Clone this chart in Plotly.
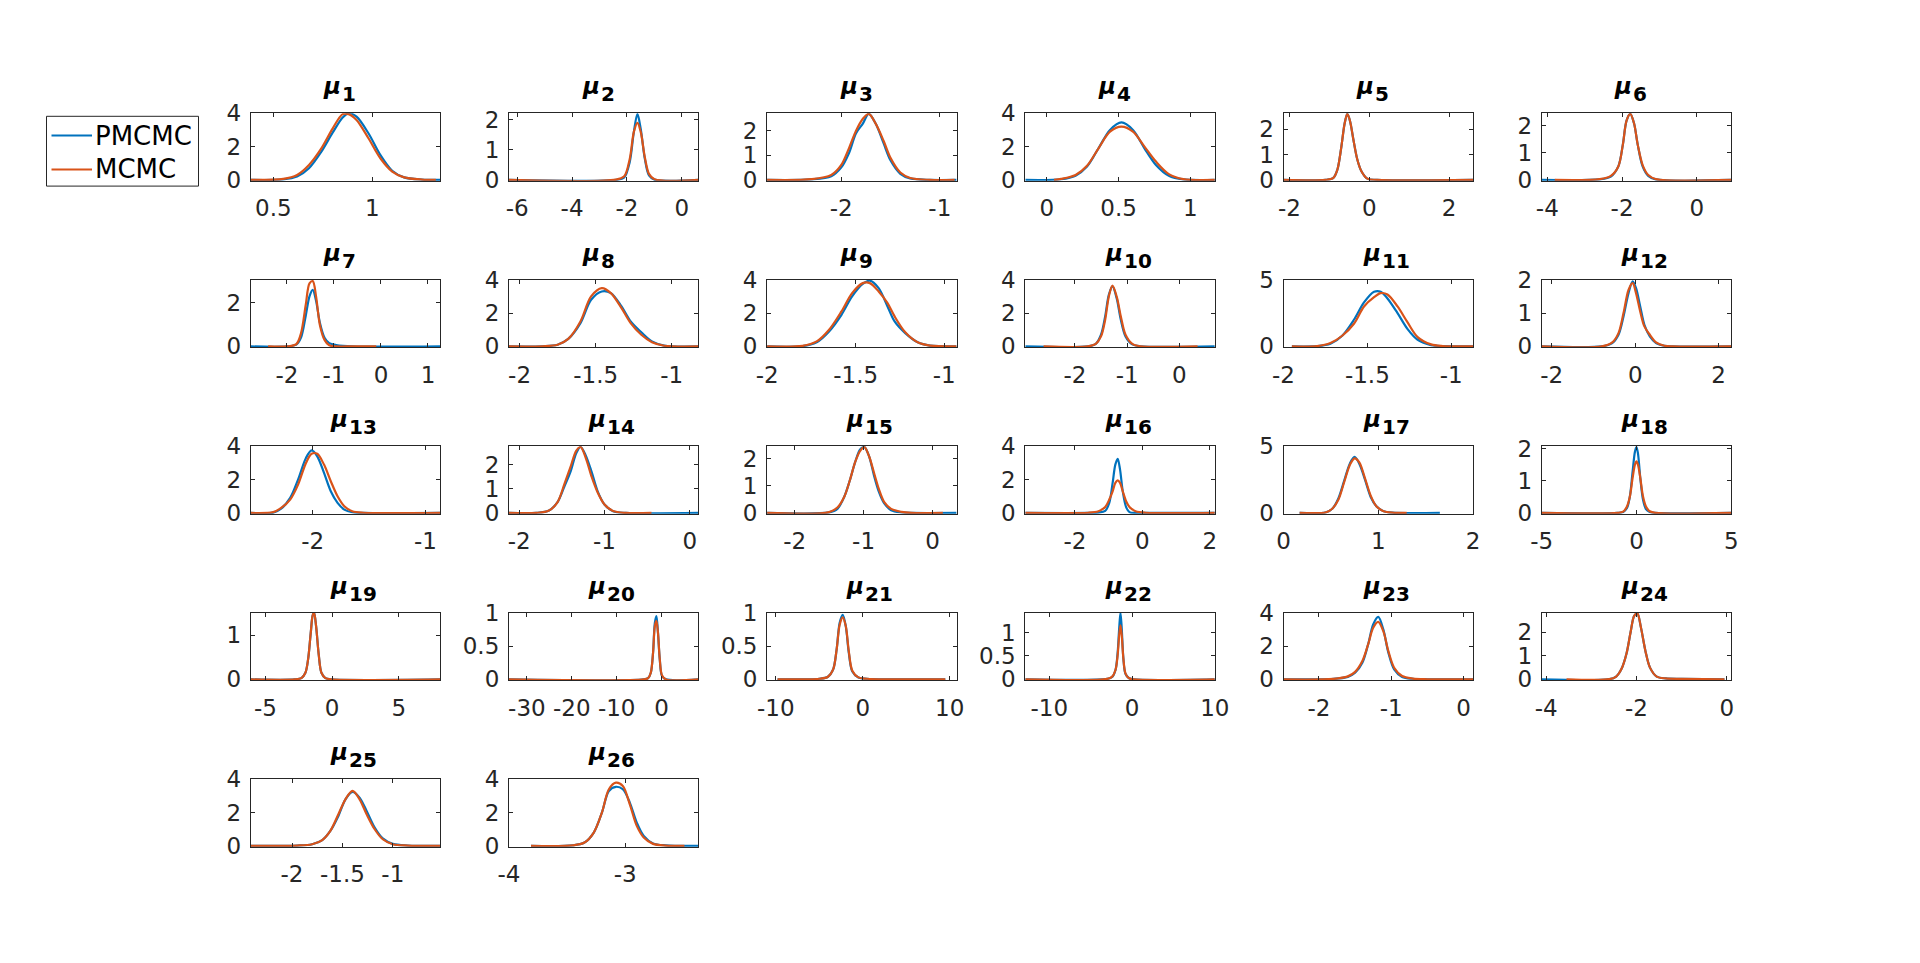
import plotly.graph_objects as go

# ---------------- data ----------------
param_index = list(range(1, 27))
series_names = ["PMCMC", "MCMC"]

x_limits = [
    [0.386, 1.342], [-6.3, 0.6], [-2.75, -0.83], [-0.15, 1.17], [-2.15, 2.6], [-4.15, 0.92],
    [-2.77, 1.26], [-2.07, -0.825], [-2.0, -0.93], [-2.95, 0.68], [-2.0, -0.87], [-2.24, 2.3],
    [-2.55, -0.87], [-2.12, 0.1], [-2.4, 0.35], [-3.47, 2.15], [0.0, 2.0], [-5.0, 5.0],
    [-6.1, 8.1], [-34.0, 8.2], [-11.0, 10.8], [-12.9, 10.0], [-2.49, 0.13], [-4.1, 0.1],
    [-2.41, -0.53], [-4.0, -2.37],
]
y_max = [4, 2.22, 2.72, 4, 2.62, 2.47,
         3.06, 4, 4, 4, 5, 2.0,
         4, 2.78, 2.47, 4, 5, 2.07,
         1.5, 1.0, 1.0, 1.42, 4, 2.83,
         4, 4]
x_tick_vals = [
    [0.5, 1], [-6, -4, -2, 0], [-2, -1], [0, 0.5, 1], [-2, 0, 2], [-4, -2, 0],
    [-2, -1, 0, 1], [-2, -1.5, -1], [-2, -1.5, -1], [-2, -1, 0], [-2, -1.5, -1], [-2, 0, 2],
    [-2, -1], [-2, -1, 0], [-2, -1, 0], [-2, 0, 2], [0, 1, 2], [-5, 0, 5],
    [-5, 0, 5], [-30, -20, -10, 0], [-10, 0, 10], [-10, 0, 10], [-2, -1, 0], [-4, -2, 0],
    [-2, -1.5, -1], [-4, -3],
]
y_tick_vals = [
    [0, 2, 4], [0, 1, 2], [0, 1, 2], [0, 2, 4], [0, 1, 2], [0, 1, 2],
    [0, 2], [0, 2, 4], [0, 2, 4], [0, 2, 4], [0, 5], [0, 1, 2],
    [0, 2, 4], [0, 1, 2], [0, 1, 2], [0, 2, 4], [0, 5], [0, 1, 2],
    [0, 1], [0, 0.5, 1], [0, 0.5, 1], [0, 0.5, 1], [0, 2, 4], [0, 1, 2],
    [0, 2, 4], [0, 2, 4],
]

# density evaluation points (shared by both series of a panel)
grid_x = [
    [0.55, 0.62, 0.68, 0.74, 0.80, 0.85, 0.88, 0.92, 0.98, 1.04, 1.10, 1.16, 1.25],
    [-2.4, -2.1, -1.9, -1.75, -1.62, -1.5, -1.35, -1.2, -1.0],
    [-2.3, -2.1, -2.0, -1.92, -1.85, -1.78, -1.72, -1.65, -1.57, -1.5, -1.4, -1.3, -1.1],
    [0.1, 0.2, 0.28, 0.36, 0.44, 0.52, 0.6, 0.68, 0.76, 0.85, 0.95],
    [-1.1, -0.9, -0.8, -0.7, -0.62, -0.55, -0.48, -0.4, -0.3, -0.2, -0.05, 0.2],
    [-2.6, -2.3, -2.1, -1.98, -1.88, -1.78, -1.68, -1.58, -1.45, -1.3, -1.1],
    [-2.0, -1.8, -1.7, -1.6, -1.52, -1.45, -1.38, -1.3, -1.2, -1.1, -0.95, -0.6],
    [-1.85, -1.75, -1.68, -1.6, -1.53, -1.46, -1.4, -1.33, -1.27, -1.2, -1.13, -1.05],
    [-1.8, -1.72, -1.65, -1.58, -1.52, -1.46, -1.42, -1.37, -1.32, -1.28, -1.22, -1.15, -1.08],
    [-1.75, -1.6, -1.5, -1.42, -1.35, -1.28, -1.2, -1.12, -1.03, -0.9, -0.75],
    [-1.8, -1.72, -1.65, -1.58, -1.52, -1.46, -1.42, -1.38, -1.32, -1.26, -1.2, -1.12, -1.05],
    [-0.8, -0.55, -0.4, -0.28, -0.16, -0.06, 0.02, 0.12, 0.22, 0.35, 0.5, 0.7, 0.9],
    [-2.35, -2.28, -2.2, -2.13, -2.06, -2.01, -1.96, -1.9, -1.84, -1.78, -1.72, -1.65, -1.55],
    [-1.8, -1.65, -1.55, -1.47, -1.4, -1.33, -1.28, -1.22, -1.15, -1.08, -1.0, -0.9, -0.75],
    [-1.5, -1.38, -1.28, -1.2, -1.12, -1.05, -0.99, -0.92, -0.85, -0.78, -0.7, -0.6, -0.45, -0.3],
    [-1.6, -1.3, -1.1, -0.98, -0.88, -0.8, -0.73, -0.66, -0.58, -0.48, -0.38, -0.2, 0.1],
    [0.45, 0.52, 0.58, 0.64, 0.7, 0.75, 0.8, 0.86, 0.92, 0.98, 1.05, 1.15],
    [-1.0, -0.7, -0.5, -0.35, -0.2, -0.08, 0.0, 0.08, 0.2, 0.35, 0.5, 0.7, 1.0],
    [-2.8, -2.3, -2.0, -1.8, -1.6, -1.45, -1.35, -1.2, -1.0, -0.8, -0.5, 0.0],
    [-4.0, -3.0, -2.4, -1.9, -1.5, -1.15, -0.8, -0.4, 0.1, 1.0],
    [-5.0, -4.0, -3.4, -3.0, -2.65, -2.3, -1.95, -1.6, -1.2, -0.5, 0.5],
    [-3.0, -2.4, -2.0, -1.75, -1.55, -1.4, -1.25, -1.05, -0.8, -0.4, 0.2],
    [-1.8, -1.6, -1.5, -1.4, -1.32, -1.25, -1.18, -1.11, -1.04, -0.96, -0.85, -0.7, -0.5],
    [-2.6, -2.45, -2.33, -2.22, -2.13, -2.05, -1.98, -1.9, -1.8, -1.7, -1.55, -1.35, -1.0],
    [-1.95, -1.8, -1.7, -1.62, -1.54, -1.47, -1.4, -1.33, -1.26, -1.18, -1.1, -1.0, -0.85],
    [-3.45, -3.35, -3.27, -3.2, -3.14, -3.08, -3.02, -2.96, -2.9, -2.84, -2.76, -2.65],
]

pmcmc_density = [
    [0.03, 0.2, 0.7, 1.65, 2.85, 3.75, 4.0, 3.8, 2.8, 1.5, 0.55, 0.15, 0.02],
    [0.0, 0.08, 0.6, 1.6, 2.2, 1.7, 0.7, 0.15, 0.01],
    [0.02, 0.15, 0.5, 1.1, 1.9, 2.3, 2.7, 2.3, 1.5, 0.8, 0.25, 0.06, 0.0],
    [0.04, 0.25, 0.8, 1.9, 3.0, 3.45, 3.0, 1.9, 0.9, 0.25, 0.03],
    [0.0, 0.08, 0.4, 1.3, 2.2, 2.6, 2.3, 1.6, 0.8, 0.35, 0.05, 0.0],
    [0.02, 0.12, 0.5, 1.3, 2.2, 2.45, 2.1, 1.3, 0.5, 0.15, 0.02],
    [0.0, 0.08, 0.4, 1.4, 2.3, 2.6, 2.1, 1.1, 0.4, 0.15, 0.06, 0.0],
    [0.01, 0.1, 0.45, 1.4, 2.8, 3.3, 3.2, 2.4, 1.5, 0.85, 0.3, 0.05],
    [0.02, 0.25, 0.9, 1.9, 3.0, 3.75, 3.95, 3.5, 2.4, 1.5, 0.8, 0.25, 0.05],
    [0.0, 0.15, 0.7, 1.8, 3.1, 3.6, 2.9, 1.6, 0.6, 0.12, 0.01],
    [0.02, 0.2, 0.8, 2.0, 3.3, 4.1, 4.1, 3.6, 2.5, 1.3, 0.5, 0.1, 0.02],
    [0.0, 0.1, 0.35, 0.9, 1.6, 1.95, 1.75, 1.2, 0.65, 0.3, 0.1, 0.02, 0.0],
    [0.02, 0.25, 0.9, 2.0, 3.3, 3.75, 3.4, 2.4, 1.3, 0.6, 0.2, 0.04, 0.0],
    [0.0, 0.1, 0.45, 1.1, 1.7, 2.5, 2.75, 2.4, 1.7, 0.9, 0.35, 0.07, 0.0],
    [0.02, 0.15, 0.6, 1.2, 1.9, 2.35, 2.45, 2.1, 1.4, 0.8, 0.35, 0.1, 0.02, 0.0],
    [0.0, 0.02, 0.12, 0.6, 1.8, 2.9, 3.25, 2.6, 1.3, 0.35, 0.05, 0.0, 0.0],
    [0.05, 0.35, 1.1, 2.4, 3.7, 4.2, 3.7, 2.5, 1.2, 0.5, 0.15, 0.02],
    [0.0, 0.03, 0.15, 0.5, 1.3, 1.9, 2.05, 1.85, 1.1, 0.4, 0.12, 0.03, 0.0],
    [0.0, 0.03, 0.15, 0.45, 1.05, 1.45, 1.5, 1.2, 0.55, 0.15, 0.03, 0.0],
    [0.0, 0.02, 0.1, 0.4, 0.85, 0.95, 0.7, 0.3, 0.05, 0.0],
    [0.01, 0.04, 0.15, 0.45, 0.85, 0.97, 0.8, 0.4, 0.12, 0.03, 0.01],
    [0.01, 0.05, 0.2, 0.55, 1.1, 1.42, 1.1, 0.45, 0.12, 0.03, 0.0],
    [0.03, 0.15, 0.4, 1.0, 2.1, 3.3, 3.75, 3.0, 1.6, 0.6, 0.15, 0.04, 0.01],
    [0.01, 0.12, 0.45, 1.1, 2.0, 2.7, 2.8, 2.2, 1.2, 0.5, 0.12, 0.04, 0.02],
    [0.02, 0.1, 0.35, 0.9, 1.8, 2.8, 3.25, 2.9, 2.1, 1.1, 0.45, 0.12, 0.02],
    [0.03, 0.2, 0.8, 2.0, 3.3, 3.55, 3.4, 2.6, 1.4, 0.6, 0.15, 0.03],
]

mcmc_density = [
    [0.06, 0.3, 0.9, 1.85, 3.1, 3.95, 3.95, 3.6, 2.5, 1.3, 0.5, 0.15, 0.02],
    [0.01, 0.12, 0.7, 1.6, 1.9, 1.6, 0.75, 0.2, 0.02],
    [0.03, 0.2, 0.6, 1.3, 2.0, 2.5, 2.7, 2.3, 1.6, 0.9, 0.3, 0.08, 0.0],
    [0.06, 0.3, 0.85, 1.9, 2.9, 3.2, 2.9, 2.0, 1.1, 0.35, 0.05],
    [0.0, 0.08, 0.4, 1.3, 2.2, 2.6, 2.3, 1.6, 0.8, 0.35, 0.05, 0.0],
    [0.03, 0.15, 0.5, 1.3, 2.2, 2.45, 2.1, 1.3, 0.55, 0.18, 0.03],
    [0.0, 0.1, 0.6, 1.9, 2.9, 3.0, 2.3, 1.0, 0.3, 0.05, 0.0, 0.0],
    [0.01, 0.1, 0.45, 1.5, 3.0, 3.5, 3.2, 2.3, 1.4, 0.7, 0.25, 0.04],
    [0.03, 0.3, 1.0, 2.1, 3.2, 3.8, 3.8, 3.3, 2.6, 1.8, 0.85, 0.25, 0.05],
    [0.0, 0.15, 0.6, 1.6, 3.0, 3.65, 3.0, 1.8, 0.7, 0.15, 0.01],
    [0.02, 0.25, 0.8, 1.7, 3.0, 3.7, 4.0, 3.9, 3.0, 1.8, 0.7, 0.15, 0.03],
    [0.0, 0.12, 0.4, 1.0, 1.7, 1.9, 1.6, 1.05, 0.6, 0.35, 0.12, 0.02, 0.0],
    [0.05, 0.3, 0.8, 1.7, 3.0, 3.55, 3.55, 2.9, 1.9, 1.0, 0.4, 0.1, 0.01],
    [0.0, 0.1, 0.45, 1.2, 1.9, 2.6, 2.75, 2.3, 1.5, 0.85, 0.35, 0.08, 0.0],
    [0.03, 0.2, 0.6, 1.2, 1.9, 2.3, 2.45, 2.1, 1.5, 0.9, 0.4, 0.15, 0.04, 0.0],
    [0.01, 0.1, 0.35, 0.8, 1.3, 1.8, 1.95, 1.8, 1.3, 0.7, 0.35, 0.1, 0.01],
    [0.05, 0.35, 1.0, 2.3, 3.6, 4.1, 3.8, 2.6, 1.3, 0.5, 0.15, 0.02],
    [0.0, 0.04, 0.2, 0.5, 1.1, 1.5, 1.6, 1.5, 1.1, 0.5, 0.2, 0.05, 0.0],
    [0.0, 0.03, 0.15, 0.45, 1.05, 1.45, 1.5, 1.2, 0.55, 0.15, 0.03, 0.0],
    [0.0, 0.02, 0.1, 0.4, 0.8, 0.88, 0.7, 0.3, 0.06, 0.0],
    [0.01, 0.04, 0.15, 0.45, 0.82, 0.93, 0.8, 0.42, 0.13, 0.03, 0.01],
    [0.01, 0.06, 0.2, 0.5, 0.95, 1.15, 0.95, 0.45, 0.13, 0.03, 0.0],
    [0.03, 0.18, 0.45, 1.1, 2.1, 3.1, 3.45, 2.9, 1.7, 0.7, 0.2, 0.05, 0.01],
    [0.01, 0.12, 0.45, 1.1, 2.0, 2.7, 2.8, 2.2, 1.2, 0.5, 0.12, 0.04, 0.02],
    [0.02, 0.1, 0.35, 0.9, 1.9, 2.8, 3.3, 2.8, 1.9, 1.0, 0.4, 0.1, 0.02],
    [0.03, 0.2, 0.8, 2.0, 3.4, 3.8, 3.6, 2.5, 1.2, 0.5, 0.12, 0.02],
]

# outermost evaluation points of each kernel density (density ~0 there)
pmcmc_support = [
    [0.386, 1.342], [-6.3, 0.6], [-2.75, -0.83], [-0.15, 1.17], [-2.15, 2.6], [-4.15, 0.92],
    [-2.77, 1.26], [-2.07, -0.825], [-2.0, -0.93], [-2.95, 0.68], [-1.95, -0.87], [-2.24, 2.3],
    [-2.55, -0.87], [-2.12, 0.1], [-2.4, 0.35], [-3.47, 2.15], [0.17, 1.65], [-5.0, 5.0],
    [-6.1, 8.1], [-34.0, 8.2], [-9.8, 9.5], [-12.9, 10.0], [-2.49, 0.13], [-4.1, -0.05],
    [-2.41, -0.53], [-3.81, -2.37],
]
mcmc_support = [
    [0.386, 1.32], [-6.3, 0.6], [-2.75, -0.85], [0.05, 1.17], [-2.15, 2.6], [-3.8, 0.92],
    [-2.4, -0.1], [-2.07, -0.825], [-2.0, -0.93], [-2.6, 0.35], [-1.95, -0.87], [-2.24, 2.3],
    [-2.55, -0.87], [-2.12, -0.45], [-2.4, 0.15], [-3.47, 2.15], [0.17, 1.3], [-5.0, 5.0],
    [-6.1, 8.1], [-34.0, 8.2], [-9.8, 9.5], [-12.9, 10.0], [-2.49, 0.13], [-3.55, -0.05],
    [-2.41, -0.53], [-3.81, -2.49],
]

# ---------------- styling / layout ----------------
W, H = 1920, 963
BLUE = "#0072BD"
ORANGE = "#D95319"
AX = "#262626"
FONT = "DejaVu Sans, Liberation Sans, Arial, sans-serif"

n_cols = 6
box_left0, box_dx, box_w = 250.7, 258.2, 189.5
box_top0, box_dy, box_h = 113.3, 166.5, 67.4


def fmt(v):
    return "%g" % v


fig = go.Figure()
annotations = []
shapes = []

for k, idx in enumerate(param_index):
    r, c = divmod(k, n_cols)
    left = box_left0 + c * box_dx
    top = box_top0 + r * box_dy
    xd = [left / W, (left + box_w) / W]
    yd = [1 - (top + box_h) / H, 1 - top / H]
    sfx = "" if k == 0 else str(k + 1)
    xa, ya = "x" + sfx, "y" + sfx

    for name, dens, sup, col in [
        (series_names[0], pmcmc_density[k], pmcmc_support[k], BLUE),
        (series_names[1], mcmc_density[k], mcmc_support[k], ORANGE),
    ]:
        xs = [sup[0]] + grid_x[k] + [sup[1]]
        ys = [0.0] + dens + [0.0]
        fig.add_trace(go.Scatter(
            x=xs, y=ys, mode="lines", name=name, showlegend=False,
            line=dict(color=col, width=2.2, shape="spline", smoothing=0.9),
            xaxis=xa, yaxis=ya, hoverinfo="x+y+name",
        ))

    ymx = y_max[k]
    common = dict(showline=True, linecolor=AX, linewidth=1, mirror="allticks",
                  ticks="inside", ticklen=4, tickwidth=1, tickcolor=AX,
                  showgrid=False, zeroline=False, automargin=False,
                  tickfont=dict(family=FONT, size=23, color=AX))
    fig.layout["xaxis" + sfx] = dict(
        domain=xd, anchor=ya, range=x_limits[k], tickmode="array",
        tickvals=x_tick_vals[k], ticktext=[fmt(v) for v in x_tick_vals[k]],
        ticklabelstandoff=7, **common)
    fig.layout["yaxis" + sfx] = dict(
        domain=yd, anchor=xa, range=[-0.012 * ymx, ymx], tickmode="array",
        tickvals=y_tick_vals[k], ticktext=[fmt(v) for v in y_tick_vals[k]],
        ticklabelstandoff=4, **common)

    # title: italic mu followed by a bold subscript index, centred over the box
    cx = left + box_w / 2
    n_dig = len(str(idx))
    junction = cx + (n_dig * 13.0 - 17.0) / 2
    annotations.append(dict(
        text="<i>μ</i>", xref="paper", yref="paper",
        x=junction / W, y=1 - (top - 27) / H, xanchor="right", yanchor="middle",
        showarrow=False, font=dict(family=FONT, size=23, color="#000000", weight="bold")))
    annotations.append(dict(
        text=str(idx), xref="paper", yref="paper",
        x=(junction - 3) / W, y=1 - (top - 19) / H, xanchor="left", yanchor="middle",
        showarrow=False, font=dict(family=FONT, size=20, color="#000000", weight="bold")))

# legend drawn as a boxed key
lg_l, lg_r, lg_t, lg_b = 46.5, 198.5, 116.3, 186.1
shapes.append(dict(type="rect", xref="paper", yref="paper",
                   x0=lg_l / W, x1=lg_r / W, y0=1 - lg_b / H, y1=1 - lg_t / H,
                   line=dict(color=AX, width=1), fillcolor="white", layer="above"))
for i, (name, col) in enumerate(zip(series_names, [BLUE, ORANGE])):
    yy = 1 - (135.5 + i * 34) / H
    shapes.append(dict(type="line", xref="paper", yref="paper",
                       x0=51.5 / W, x1=92 / W, y0=yy, y1=yy,
                       line=dict(color=col, width=2.2), layer="above"))
    annotations.append(dict(text=name, xref="paper", yref="paper", x=93 / W, y=yy,
                            xanchor="left", yanchor="middle", showarrow=False,
                            font=dict(family=FONT, size=26, color="#000000")))

fig.update_layout(width=W, height=H, margin=dict(l=0, r=0, t=0, b=0),
                  template="none",
                  paper_bgcolor="white", plot_bgcolor="white",
                  annotations=annotations, shapes=shapes, showlegend=False)

fig.write_html("out.html", config={"displayModeBar": False},
               post_script="document.body.style.margin='0';")
